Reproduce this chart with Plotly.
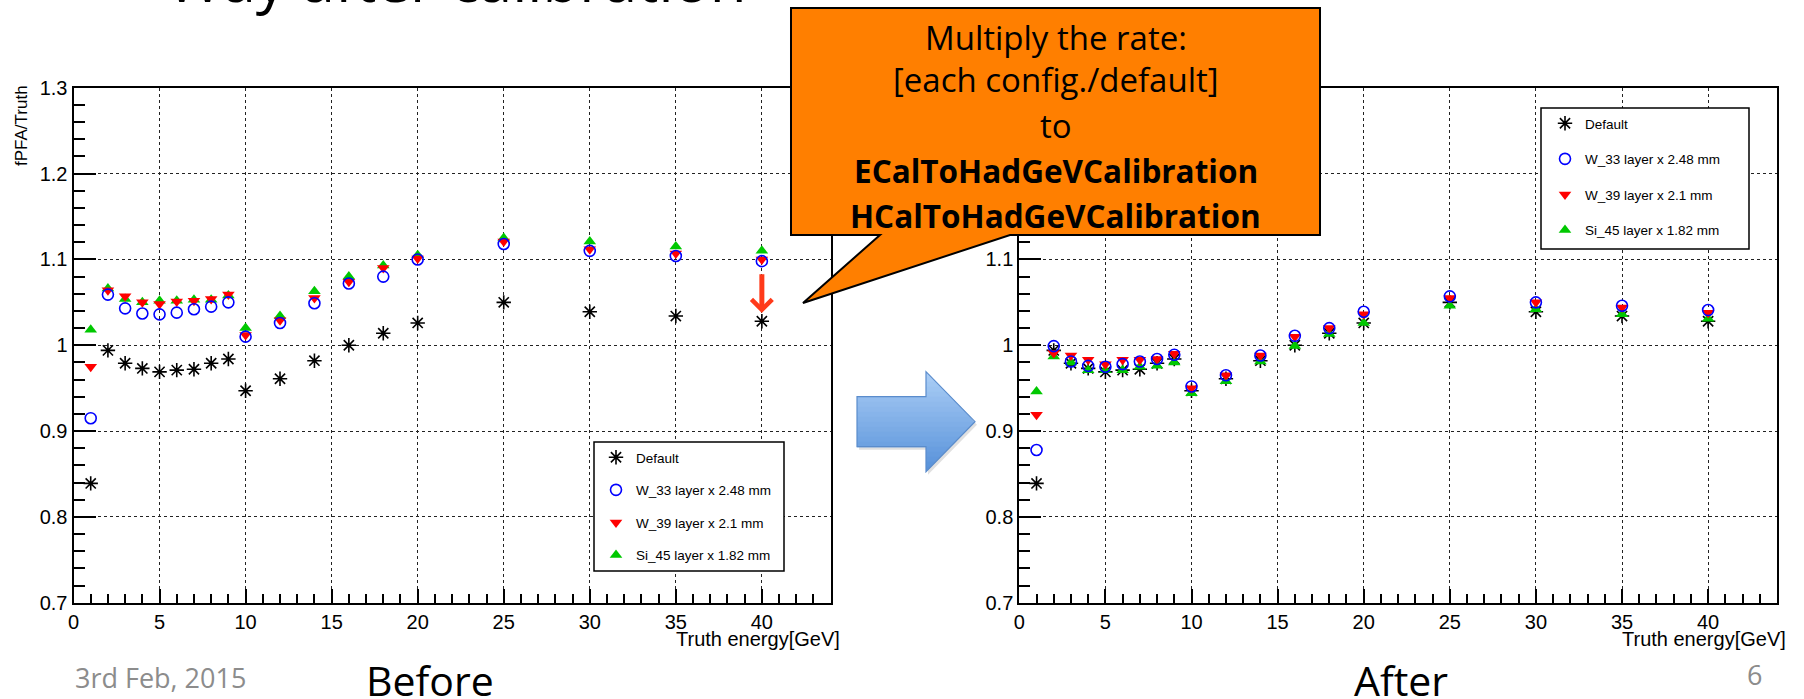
import plotly.graph_objects as go

W, H = 1804, 699


def px(x):
    return x / W


def py(y):
    return 1 - y / H


# ---- data: reconstructed energy ratio vs truth energy ----
energy = [1, 2, 3, 4, 5, 6, 7, 8, 9, 10, 12, 14, 16, 18, 20, 25, 30, 35, 40]

default_ratio = [0.839, 0.994, 0.979, 0.973, 0.969, 0.971, 0.972, 0.979, 0.984, 0.947,
                 0.961, 0.982, 1.000, 1.014, 1.026, 1.050, 1.039, 1.034, 1.028]

before_w33 = [0.915, 1.059, 1.043, 1.037, 1.036, 1.038, 1.042, 1.045, 1.050, 1.010,
              1.026, 1.049, 1.072, 1.080, 1.100, 1.118, 1.110, 1.104, 1.098]
before_w39 = [0.975, 1.064, 1.057, 1.050, 1.048, 1.051, 1.052, 1.054, 1.059, 1.012,
              1.029, 1.055, 1.074, 1.090, 1.101, 1.121, 1.112, 1.107, 1.100]
before_si45 = [1.018, 1.066, 1.054, 1.050, 1.052, 1.052, 1.053, 1.053, 1.058, 1.020,
               1.034, 1.063, 1.080, 1.093, 1.105, 1.125, 1.121, 1.115, 1.110]

after_w33 = [0.878, 0.999, 0.981, 0.976, 0.975, 0.978, 0.981, 0.984, 0.989, 0.952,
             0.965, 0.988, 1.011, 1.020, 1.039, 1.057, 1.050, 1.046, 1.041]
after_w39 = [0.919, 0.991, 0.988, 0.983, 0.978, 0.983, 0.983, 0.984, 0.990, 0.950,
             0.965, 0.988, 1.010, 1.020, 1.036, 1.055, 1.050, 1.044, 1.038]
after_si45 = [0.946, 0.987, 0.980, 0.971, 0.971, 0.971, 0.975, 0.976, 0.980, 0.944,
              0.958, 0.981, 0.999, 1.013, 1.026, 1.046, 1.042, 1.036, 1.031]

series_names = ["Default", "W_33 layer x 2.48 mm", "W_39 layer x 2.1 mm", "Si_45 layer x 1.82 mm"]

y_ticks = [0.7, 0.8, 0.9, 1.0, 1.1, 1.2, 1.3]
y_labels_left = ["0.7", "0.8", "0.9", "1", "1.1", "1.2", "1.3"]
# the upper labels of the right panel sit under the callout box
y_labels_right = ["0.7", "0.8", "0.9", "1", "1.1", "", ""]

AXFONT = "Liberation Sans, Arial, Helvetica, sans-serif"
SLIDEFONT = "Open Sans, Noto Sans, sans-serif"

fig = go.Figure()


def add_panel(xa, ya, legend, tag, w33, w39, si45):
    # drawing order: default, Si, W_39, W_33 (circles end on top); legend order by rank
    fig.add_trace(go.Scatter(
        x=energy, y=default_ratio, mode="markers", name=series_names[0],
        xaxis=xa, yaxis=ya, legend=legend, legendgroup=tag + "d", legendrank=1,
        marker=dict(symbol="asterisk-open", size=12, color="black",
                    line=dict(color="black", width=1.6))))
    fig.add_trace(go.Scatter(
        x=energy, y=si45, mode="markers", name=series_names[3],
        xaxis=xa, yaxis=ya, legend=legend, legendgroup=tag + "s", legendrank=4,
        marker=dict(symbol="triangle-up", size=11, color="#00c800", line=dict(width=0))))
    fig.add_trace(go.Scatter(
        x=energy, y=w39, mode="markers", name=series_names[2],
        xaxis=xa, yaxis=ya, legend=legend, legendgroup=tag + "r", legendrank=3,
        marker=dict(symbol="triangle-down", size=11, color="#ff0000", line=dict(width=0))))
    fig.add_trace(go.Scatter(
        x=energy, y=w33, mode="markers", name=series_names[1],
        xaxis=xa, yaxis=ya, legend=legend, legendgroup=tag + "b", legendrank=2,
        marker=dict(symbol="circle-open", size=11, color="#0000ff",
                    line=dict(color="#0000ff", width=1.6))))


add_panel("x", "y", "legend", "L", before_w33, before_w39, before_si45)
add_panel("x2", "y2", "legend2", "R", after_w33, after_w39, after_si45)

tickfont = dict(family=AXFONT, size=20, color="black")
xcommon = dict(
    range=[0, 44], tick0=0, dtick=5, ticks="inside", ticklen=14, tickwidth=1.5,
    tickcolor="black", showline=True, linecolor="black", linewidth=2, mirror=True,
    showgrid=True, gridcolor="#222", gridwidth=1, griddash="dot", zeroline=False,
    minor=dict(dtick=1, ticks="inside", ticklen=9, tickwidth=1.5, tickcolor="black",
               showgrid=False),
    tickfont=tickfont, fixedrange=True, automargin=False)
ycommon = dict(
    range=[0.7, 1.3], tickmode="array", tickvals=y_ticks, ticks="inside", ticklen=22,
    tickwidth=1.5, tickcolor="black", showline=True, linecolor="black", linewidth=2,
    mirror=True, showgrid=True, gridcolor="#222", gridwidth=1, griddash="dot",
    zeroline=False,
    minor=dict(tick0=0.7, dtick=0.02, ticks="inside", ticklen=11, tickwidth=1.5,
               tickcolor="black", showgrid=False),
    tickfont=tickfont, fixedrange=True, automargin=False, domain=[py(602.7), py(87.8)])

fig.update_layout(
    width=W, height=699, margin=dict(l=0, r=0, t=0, b=0),
    paper_bgcolor="white", plot_bgcolor="white", showlegend=True,
    xaxis=dict(xcommon, domain=[px(73.5), px(830.7)], anchor="y"),
    yaxis=dict(ycommon, anchor="x", ticktext=y_labels_left),
    xaxis2=dict(xcommon, domain=[px(1019.3), px(1777)], anchor="y2"),
    yaxis2=dict(ycommon, anchor="x2", ticktext=y_labels_right),
    legend=dict(x=px(596), y=py(442), xanchor="left", yanchor="top",
                bgcolor="rgba(0,0,0,0)", borderwidth=0, tracegroupgap=12,
                font=dict(family=AXFONT, size=13.5, color="black")),
    legend2=dict(x=px(1545), y=py(108), xanchor="left", yanchor="top",
                 bgcolor="rgba(0,0,0,0)", borderwidth=0, tracegroupgap=15,
                 font=dict(family=AXFONT, size=13.5, color="black")),
)

shapes = []
# legend frames
for (x0, y0, x1, y1) in [(594, 442, 784, 571), (1541, 108, 1749, 249)]:
    shapes.append(dict(type="rect", xref="paper", yref="paper", layer="above",
                       x0=px(x0), x1=px(x1), y0=py(y1), y1=py(y0),
                       fillcolor="white", line=dict(color="black", width=1.5)))

# blue block arrow between the panels, with a vertical gradient
ax_l, ax_neck, ax_tip = 857.0, 926.0, 975.0
ay_top, ay_bot, ay_mid = 371.7, 471.7, 421.7
shaft_top, shaft_bot = 396.7, 446.7


def arrow_right(y):
    return ax_neck + (ax_tip - ax_neck) * (1 - abs(y - ay_mid) / (ay_mid - ay_top))


def arrow_path(dx=0.0, dy=0.0):
    pts = [(ax_l, shaft_top), (ax_neck, shaft_top), (ax_neck, ay_top), (ax_tip, ay_mid),
           (ax_neck, ay_bot), (ax_neck, shaft_bot), (ax_l, shaft_bot)]
    return "M " + " L ".join(f"{px(x + dx):.5f},{py(y + dy):.5f}" for x, y in pts) + " Z"


shapes.append(dict(type="path", xref="paper", yref="paper", layer="above",
                   path=arrow_path(2, 3), fillcolor="rgba(0,0,0,0.12)", line=dict(width=0)))

n_bands = 20
top_rgb, bot_rgb = (170, 205, 245), (88, 146, 218)
band_h = (ay_bot - ay_top) / n_bands
for k in range(n_bands):
    y0 = ay_top + k * band_h
    y1 = y0 + band_h
    ymid = (y0 + y1) / 2
    xl = ax_l if shaft_top <= ymid <= shaft_bot else ax_neck
    t = k / (n_bands - 1)
    col = tuple(round(a + (b - a) * t) for a, b in zip(top_rgb, bot_rgb))
    y1e = min(y1 + 0.6, ay_bot)
    pts = [(xl, y0), (arrow_right(y0), y0), (arrow_right(y1e), y1e), (xl, y1e)]
    path = "M " + " L ".join(f"{px(x):.5f},{py(y):.5f}" for x, y in pts) + " Z"
    shapes.append(dict(type="path", xref="paper", yref="paper", layer="above", path=path,
                       fillcolor=f"rgb{col}", line=dict(width=0)))
shapes.append(dict(type="path", xref="paper", yref="paper", layer="above",
                   path=arrow_path(), fillcolor="rgba(0,0,0,0)",
                   line=dict(color="#5a8ccc", width=1.2)))

# orange speech callout
call_pts = [(791, 8), (1320, 8), (1320, 235), (1010, 235), (803, 303), (880, 235), (791, 235)]
call_path = "M " + " L ".join(f"{px(x):.5f},{py(y):.5f}" for x, y in call_pts) + " Z"
shapes.append(dict(type="path", xref="paper", yref="paper", layer="above", path=call_path,
                   fillcolor="#ff7f00", line=dict(color="black", width=2)))

annotations = []


def note(text, x, y, size, color="black", family=SLIDEFONT, xanchor="center",
         yanchor="middle", angle=0):
    annotations.append(dict(text=text, x=px(x), y=py(y), xref="paper", yref="paper",
                            xanchor=xanchor, yanchor=yanchor, showarrow=False,
                            textangle=angle,
                            font=dict(family=family, size=size, color=color)))


note("Way after calibration", 457, 22, 60, yanchor="bottom")
note("fPFA/Truth", 22, 126, 17, family=AXFONT, angle=-90)
note("Truth energy[GeV]", 842, 639, 20, family=AXFONT, xanchor="right")
note("Truth energy[GeV]", 1788, 639, 20, family=AXFONT, xanchor="right")

note("Multiply the rate:", 1055.5, 37, 33)
note("[each config./default]", 1055.5, 80, 33)
note("to", 1055.5, 125, 33)
note("<b>ECalToHadGeVCalibration</b>", 1055.5, 170, 31.5)
note("<b>HCalToHadGeVCalibration</b>", 1055.5, 215, 31.5)

note("3rd Feb, 2015", 72.7, 677, 27, color="#8c8c8c", xanchor="left")
note("Before", 430, 680, 41)
note("After", 1401, 680, 41)
note("6", 1754.5, 674, 27, color="#8c8c8c")

# red arrow pointing at the 40 GeV shift
annotations.append(dict(x=40, y=1.0376, ax=40, ay=1.0845, xref="x", yref="y",
                        axref="x", ayref="y", text="", showarrow=True, arrowhead=4,
                        arrowsize=0.8, arrowwidth=5, arrowcolor="#ff3a1a", standoff=0))

fig.update_layout(shapes=shapes, annotations=annotations)

fig.write_html("out.html")
